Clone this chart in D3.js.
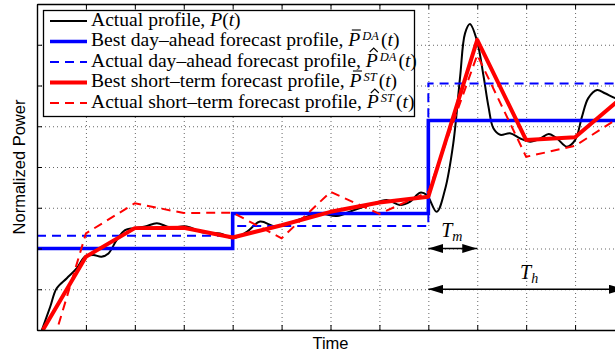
<!DOCTYPE html>
<html><head><meta charset="utf-8">
<script src="https://cdn.jsdelivr.net/npm/d3@7"></script>
<style>body{margin:0;overflow:hidden;background:#fff}</style>
</head><body>
<script>
// ---------------- data ----------------
const timeTicks = d3.range(0, 13);
const powerTicks = d3.range(0, 9);

const actualT = [0.1,0.27,0.4,0.61,0.81,0.98,1.15,1.32,1.46,1.63,1.8,1.97,2.21,2.45,2.72,3.06,3.4,3.74,4.01,
  4.29,4.56,4.87,5.24,5.52,5.79,6.13,6.47,6.81,7.15,7.42,7.63,7.83,7.97,8.17,8.34,8.51,8.65,8.75,8.85,8.99,
  9.13,9.23,9.33,9.47,9.67,9.88,10.08,10.29,10.46,10.63,10.83,11.0,11.14,11.27,11.45,11.61,11.82,12.0];
const actualP = [0,0.57,1.02,1.27,1.51,1.8,1.84,1.8,1.88,2.21,2.45,2.5,2.54,2.62,2.52,2.54,2.39,2.37,2.25,
  2.41,2.66,2.54,2.66,2.78,2.86,2.8,2.94,3.07,3.19,3.07,3.15,3.37,3.31,2.9,3.44,4.58,6.22,7.28,7.51,7.12,
  6.22,5.48,4.95,4.79,4.83,4.7,4.62,4.7,4.81,4.7,4.5,4.66,5.23,5.69,5.89,5.81,5.69,5.62];

const daStepT = [0, 4, 8, 12];
const daBest = [2.0, 2.86, 5.14, 5.14];
const daActual = [2.31, 2.55, 6.05, 6.05];

const stBestT = [0.12, 1, 2, 3, 4, 5, 6, 7, 8, 9, 10, 11, 12];
const stBest = [0, 1.8, 2.5, 2.51, 2.27, 2.57, 2.9, 3.13, 3.27, 7.12, 4.66, 4.73, 5.75];

const stActualT = [0, 1, 2, 3, 4, 5, 6, 7, 8, 9, 10, 11, 12];
const stActual = [-1.63, 2.37, 3.11, 2.87, 2.88, 2.25, 3.39, 2.85, 3.39, 6.75, 4.25, 4.52, 5.29];

const windowStart = 8, windowMid = 9, windowEnd = 12;
const tmLevel = 2, thLevel = 1;

// a: accent over the symbol ("bar" or "hat"), s: superscript
const legendLabels = [
  [{t:"Actual profile, "},{t:"P",i:1},{t:"("},{t:"t",i:1},{t:")"}],
  [{t:"Best day\u2013ahead forecast profile, "},{t:"P",i:1,a:"bar"},{t:"DA",i:1,s:1},{t:"("},{t:"t",i:1},{t:")"}],
  [{t:"Actual day\u2013ahead forecast profile, "},{t:"P",i:1,a:"hat"},{t:"DA",i:1,s:1},{t:"("},{t:"t",i:1},{t:")"}],
  [{t:"Best short\u2013term forecast profile, "},{t:"P",i:1,a:"bar"},{t:"ST",i:1,s:1},{t:"("},{t:"t",i:1},{t:")"}],
  [{t:"Actual short\u2013term forecast profile, "},{t:"P",i:1,a:"hat"},{t:"ST",i:1,s:1},{t:"("},{t:"t",i:1},{t:")"}]
];
const legendStyles = [
  {c:"#000", w:2.2, d:null},
  {c:"#0000ff", w:3.6, d:null},
  {c:"#0000ff", w:2, d:"9,6"},
  {c:"#ff0000", w:4, d:null},
  {c:"#ff0000", w:2, d:"9,6"}
];

// ---------------- layout ----------------
const W = 615, H = 360;
const L = 37, T = 4, R = 624, B = 330;
const svg = d3.select("body").append("svg").attr("width", W).attr("height", H);

const x = d3.scaleLinear().domain([0, 12]).range([L, R]);
const y = d3.scaleLinear().domain([0, 8]).range([B, T]);

const defs = svg.append("defs");
defs.append("clipPath").attr("id","clip")
  .append("rect").attr("x", L).attr("y", T).attr("width", R - L).attr("height", B - T);
defs.append("marker").attr("id","arr").attr("viewBox","0 0 15 9")
  .attr("refX",15).attr("refY",4.5).attr("markerWidth",15).attr("markerHeight",9)
  .attr("markerUnits","userSpaceOnUse").attr("orient","auto-start-reverse")
  .append("path").attr("d","M0,0L15,4.5L0,9Z").attr("fill","#000");

// grid
const gridStyle = g => {
  g.select(".domain").remove();
  g.selectAll("text").remove();
  g.selectAll("line").attr("stroke","#666").attr("stroke-width",1).attr("stroke-dasharray","1,3");
};
svg.append("g").attr("transform",`translate(0,${B})`)
  .call(d3.axisBottom(x).tickValues(timeTicks.slice(1,-1)).tickSize(-(B-T)).tickFormat(""))
  .call(gridStyle);
svg.append("g").attr("transform",`translate(${L},0)`)
  .call(d3.axisLeft(y).tickValues(powerTicks.slice(1,-1)).tickSize(-(R-L)).tickFormat(""))
  .call(gridStyle);

// data
const plot = svg.append("g").attr("clip-path","url(#clip)");
const lineXY = (ts, vs, curve) => d3.line().x((d,i)=>x(ts[i])).y(d=>y(d)).curve(curve)(vs);

plot.append("path").attr("d", lineXY(actualT, actualP, d3.curveCatmullRom.alpha(0.5)))
  .attr("fill","none").attr("stroke","#000").attr("stroke-width",2);
plot.append("path").attr("d", lineXY(daStepT, daBest, d3.curveStepAfter))
  .attr("fill","none").attr("stroke","#0000ff").attr("stroke-width",3.6);
plot.append("path").attr("d", lineXY(daStepT, daActual, d3.curveStepAfter))
  .attr("fill","none").attr("stroke","#0000ff").attr("stroke-width",2).attr("stroke-dasharray","9,6");
plot.append("path").attr("d", lineXY(stBestT, stBest, d3.curveLinear))
  .attr("fill","none").attr("stroke","#ff0000").attr("stroke-width",4).attr("stroke-linejoin","round");
plot.append("path").attr("d", lineXY(stActualT, stActual, d3.curveLinear))
  .attr("fill","none").attr("stroke","#ff0000").attr("stroke-width",2).attr("stroke-dasharray","9,6");

// axes (box with inward ticks)
const axStyle = g => {
  g.select(".domain").attr("stroke","#000").attr("stroke-width",1.4);
  g.selectAll(".tick line").attr("stroke","#000").attr("stroke-width",1);
  g.selectAll("text").remove();
};
svg.append("g").attr("transform",`translate(0,${B})`)
  .call(d3.axisBottom(x).tickValues(timeTicks).tickSize(-5).tickSizeOuter(0).tickFormat("")).call(axStyle);
svg.append("g").attr("transform",`translate(0,${T})`)
  .call(d3.axisTop(x).tickValues(timeTicks).tickSize(-5).tickSizeOuter(0).tickFormat("")).call(axStyle);
svg.append("g").attr("transform",`translate(${L},0)`)
  .call(d3.axisLeft(y).tickValues(powerTicks).tickSize(-5).tickSizeOuter(0).tickFormat("")).call(axStyle);

// annotations
const ann = svg.append("g");
ann.append("line").attr("x1",x(windowStart)).attr("x2",x(windowMid)).attr("y1",y(tmLevel)).attr("y2",y(tmLevel))
  .attr("stroke","#000").attr("stroke-width",1.5).attr("marker-start","url(#arr)").attr("marker-end","url(#arr)");
ann.append("line").attr("x1",x(windowStart)).attr("x2",x(windowEnd)).attr("y1",y(thLevel)).attr("y2",y(thLevel))
  .attr("stroke","#000").attr("stroke-width",1.5).attr("marker-start","url(#arr)").attr("marker-end","url(#arr)");
const serif = "'Liberation Serif','Times New Roman',serif";
function sub(main, s, cx, by) {
  const t = ann.append("text").attr("x",cx).attr("y",by).attr("text-anchor","middle")
    .attr("font-family",serif).attr("font-size",20).attr("font-style","italic");
  t.append("tspan").text(main);
  t.append("tspan").attr("dy",4).attr("font-size",14).text(s);
}
sub("T", "m", (x(windowStart)+x(windowMid))/2 - 1, 237);
sub("T", "h", (x(windowStart)+x(windowEnd))/2 + 3, 279);

// legend
const lg = svg.append("g");
lg.append("rect").attr("x",43.5).attr("y",10.5).attr("width",371).attr("height",106)
  .attr("fill","#fff").attr("stroke","#000").attr("stroke-width",1.3);
legendLabels.forEach((segs, i) => {
  const cy = 21 + i * 20.5;
  const base = cy + 4.5;
  const st = legendStyles[i];
  lg.append("line").attr("x1",50).attr("x2",87).attr("y1",cy).attr("y2",cy)
    .attr("stroke",st.c).attr("stroke-width",st.w).attr("stroke-dasharray",st.d);
  const t = lg.append("text").attr("x",91).attr("y",base).attr("font-family",serif).attr("font-size",19.6);
  let up = false, idx = 0;
  const accents = [];
  segs.forEach(sg => {
    const sp = t.append("tspan").text(sg.t);
    if (sg.i) sp.attr("font-style","italic");
    if (sg.s) { sp.attr("font-size",12.5).attr("dy",-6).attr("dx",2); up = true; }
    else if (up) { sp.attr("dy",6).attr("dx",2); up = false; }
    if (sg.a) accents.push({idx, a: sg.a});
    idx += sg.t.length;
  });
  accents.forEach(ac => {
    const ext = t.node().getExtentOfChar(ac.idx);
    const cx = ext.x + ext.width / 2 + 2;
    const ay = base - 16;
    if (ac.a === "bar") {
      lg.append("line").attr("x1",cx-4.5).attr("x2",cx+4.5).attr("y1",ay).attr("y2",ay)
        .attr("stroke","#000").attr("stroke-width",1.1);
    } else {
      lg.append("path").attr("d",`M${cx-4},${ay+1.5}L${cx},${ay-2.5}L${cx+4},${ay+1.5}`)
        .attr("fill","none").attr("stroke","#000").attr("stroke-width",1.1);
    }
  });
});

// axis labels
const sans = "'Liberation Sans',Arial,Helvetica,sans-serif";
svg.append("text").attr("x",(L+R)/2).attr("y",349).attr("text-anchor","middle")
  .attr("font-family",sans).attr("font-size",16.5).text("Time");
svg.append("text").attr("transform",`translate(25,${(T+B)/2}) rotate(-90)`).attr("text-anchor","middle")
  .attr("font-family",sans).attr("font-size",16.5).text("Normalized Power");
</script>
</body></html>
